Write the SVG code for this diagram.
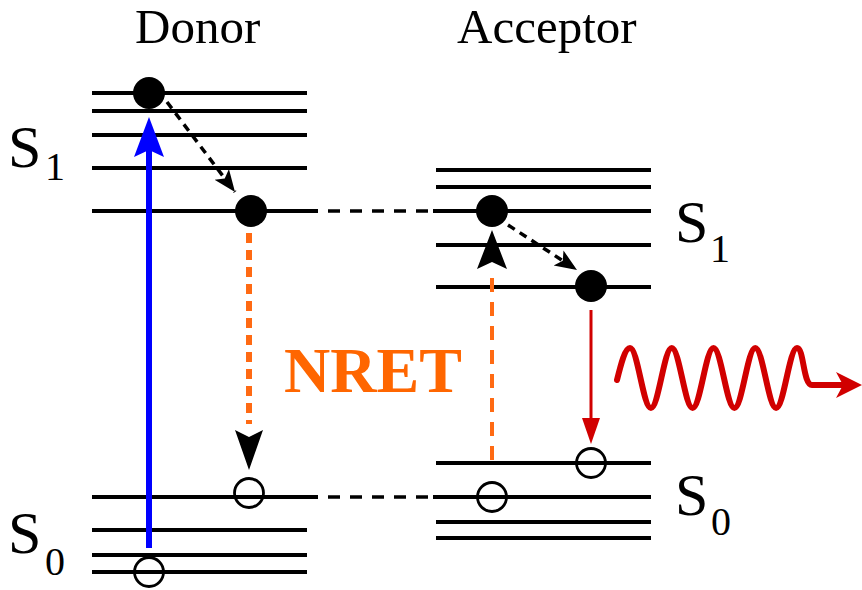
<svg xmlns="http://www.w3.org/2000/svg" width="862" height="590" viewBox="0 0 862 590">
<style>
.lvl{stroke:#000;stroke-width:3.8;fill:none}
.conn{stroke:#000;stroke-width:3.5;stroke-dasharray:12 10;fill:none}
.full{fill:#000}
.open{fill:none;stroke:#000;stroke-width:2.8}
.txt{font-family:'Liberation Serif','DejaVu Serif',serif;fill:#000}
.relax{stroke:#000;stroke-width:3.5;stroke-dasharray:8 6;fill:none}
</style>
<defs>
<marker id="ah" markerUnits="userSpaceOnUse" markerWidth="24" markerHeight="20" refX="22" refY="9" orient="auto">
<path d="M0,0 L22,9 L0,18 L5,9 Z" fill="#000"/>
</marker>
</defs>
<rect width="862" height="590" fill="#fff"/>

<g id="labels">
<text class="txt" x="135" y="43" font-size="49">Donor</text>
<text class="txt" x="457" y="43" font-size="49">Acceptor</text>
<text class="txt" x="8" y="167" font-size="60">S</text>
<text class="txt" x="45" y="180" font-size="40">1</text>
<text class="txt" x="675" y="242" font-size="60">S</text>
<text class="txt" x="710" y="262" font-size="40">1</text>
<text class="txt" x="8" y="553" font-size="60">S</text>
<text class="txt" x="45" y="575" font-size="40">0</text>
<text class="txt" x="675" y="515" font-size="60">S</text>
<text class="txt" x="711" y="535" font-size="40">0</text>
</g>

<g id="donor-levels">
<line class="lvl" x1="92" y1="93" x2="307" y2="93"/>
<line class="lvl" x1="92" y1="111" x2="307" y2="111"/>
<line class="lvl" x1="92" y1="135" x2="307" y2="135"/>
<line class="lvl" x1="92" y1="168" x2="307" y2="168"/>
<line class="lvl" x1="92" y1="211" x2="318" y2="211"/>
<line class="lvl" x1="92" y1="497" x2="318" y2="497"/>
<line class="lvl" x1="92" y1="530" x2="307" y2="530"/>
<line class="lvl" x1="92" y1="555" x2="307" y2="555"/>
<line class="lvl" x1="92" y1="572" x2="307" y2="572"/>
</g>

<g id="acceptor-levels">
<line class="lvl" x1="436" y1="170" x2="651" y2="170"/>
<line class="lvl" x1="436" y1="187" x2="651" y2="187"/>
<line class="lvl" x1="433" y1="211" x2="651" y2="211"/>
<line class="lvl" x1="436" y1="245" x2="651" y2="245"/>
<line class="lvl" x1="436" y1="287" x2="651" y2="287"/>
<line class="lvl" x1="436" y1="463" x2="651" y2="463"/>
<line class="lvl" x1="433" y1="497" x2="651" y2="497"/>
<line class="lvl" x1="436" y1="522" x2="651" y2="522"/>
<line class="lvl" x1="436" y1="538" x2="651" y2="538"/>
</g>

<g id="connectors">
<line class="conn" x1="328" y1="211" x2="430" y2="211"/>
<line class="conn" x1="328" y1="497" x2="430" y2="497"/>
<line x1="149" y1="548" x2="149" y2="140" stroke="#0000FF" stroke-width="6"/>
<path d="M149,117 L164,157 L149,150 L134,157 Z" fill="#0000FF"/>
<line class="relax" x1="167" y1="102" x2="235" y2="192" marker-end="url(#ah)"/>
<line class="relax" x1="508" y1="225" x2="577" y2="270" marker-end="url(#ah)"/>
<line x1="249" y1="233" x2="249" y2="424" stroke="#FF6A13" stroke-width="6" stroke-dasharray="10 7"/>
<path d="M249,470 L235,430 L249,437 L263,430 Z" fill="#000"/>
<line x1="492" y1="278" x2="492" y2="467" stroke="#FF6A13" stroke-width="4" stroke-dasharray="14 10"/>
<path d="M492,230 L507,269 L492,262 L477,269 Z" fill="#000"/>
<line x1="591" y1="310" x2="591" y2="425" stroke="#D10000" stroke-width="3"/>
<path d="M591,444 L582,418 L600,418 Z" fill="#D10000"/>
<path d="M617,380 C621,364 625,348 630,348 C637.6,348 643.3,408 650.9,408 C658.5,408 664.2,348 671.75,348 C679.3,348 685,408 692.6,408 C700.2,408 705.9,348 713.5,348 C721.1,348 726.8,408 734.4,408 C742,408 747.7,348 755.25,348 C762.8,348 768.5,408 776.1,408 C783.7,408 789.4,348 797,348 C804,348 803,385 812,385 L845,385" fill="none" stroke="#D10000" stroke-width="6" stroke-linecap="round"/>
<path d="M862,385 L836,372 L843,385 L836,398 Z" fill="#D10000"/>
</g>

<g id="states">
<circle class="full" cx="149" cy="93" r="16"/>
<circle class="full" cx="251" cy="211" r="16"/>
<circle class="open" cx="249" cy="493" r="14.5"/>
<circle class="open" cx="149" cy="572" r="14.5"/>
<circle class="full" cx="492" cy="211" r="16"/>
<circle class="full" cx="591" cy="286" r="16"/>
<circle class="open" cx="591" cy="463" r="14.5"/>
<circle class="open" cx="492" cy="497" r="14.5"/>
</g>

<g id="nret-label">
<text x="284" y="392" font-family="'Liberation Serif','DejaVu Serif',serif" font-weight="bold" font-size="64" fill="#FF6600">NRET</text>
</g>
</svg>
